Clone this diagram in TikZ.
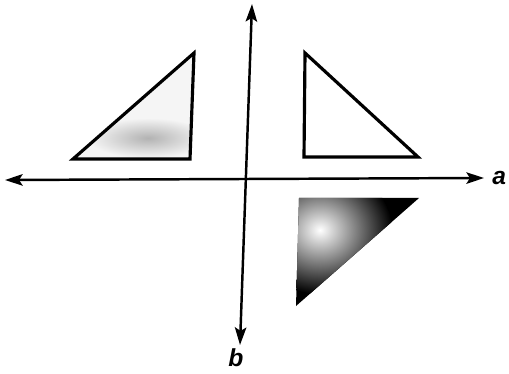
\documentclass[tikz,border=0pt]{standalone}
\usepackage{fontspec}
\setmainfont{Liberation Sans}
\usetikzlibrary{positioning}
\usetikzlibrary{arrows.meta}

\begin{document}
\begin{tikzpicture}[x=0.02cm, y=-0.02cm,
    axis/.style={line width=1.4pt, {Stealth[length=10pt,width=6.5pt,inset=2pt]}-{Stealth[length=10pt,width=6.5pt,inset=2pt]}},
    tri/.style={line width=1.8pt, line join=miter},
    lbl/.style={font=\fontsize{14}{16}\selectfont\bfseries\itshape, inner sep=0pt}]
    \useasboundingbox (0,0) rectangle (509,374);

        \coordinate (l) at (5,180);
        \coordinate (r) at (484,178);
        \coordinate (t) at (252,4);
        \coordinate (d) at (240,345);

        \node[lbl, right=0.16cm of r] (a) {a};
        \node[lbl, below=0.06cm of d, xshift=-0.08cm] (b) {b};

        % upper left
        \coordinate (p1) at (73,159);
        \coordinate (p2) at (194,53);
        \coordinate (p3) at (190,159);
        % upper right
        \coordinate (q1) at (305,53);
        \coordinate (q2) at (304,157);
        \coordinate (q3) at (418,157);
        % lower right
        \coordinate (s1) at (299,198);
        \coordinate (s2) at (419,198);
        \coordinate (s3) at (296,306);

        \fill[black!4] (p1) -- (p2) -- (p3) -- cycle;
        \begin{scope}
            \clip (p1) -- (p2) -- (p3) -- cycle;
            \shade[inner color=black!30, outer color=black!4] (148,138) ellipse [x radius=60, y radius=20];
        \end{scope}
        \draw[tri] (p1) -- (p2) -- (p3) -- cycle;

        \draw[tri] (q1) -- (q2) -- (q3) -- cycle;

        \fill[black] (s1) -- (s2) -- (s3) -- cycle;
        \begin{scope}
            \clip (s1) -- (s2) -- (s3) -- cycle;
            \shade[inner color=white, outer color=black] (320,230) ellipse [x radius=72, y radius=64];
        \end{scope}

        \draw[axis] (l) -- (r);
        \draw[axis] (d) -- (t);

\end{tikzpicture}
\end{document}
